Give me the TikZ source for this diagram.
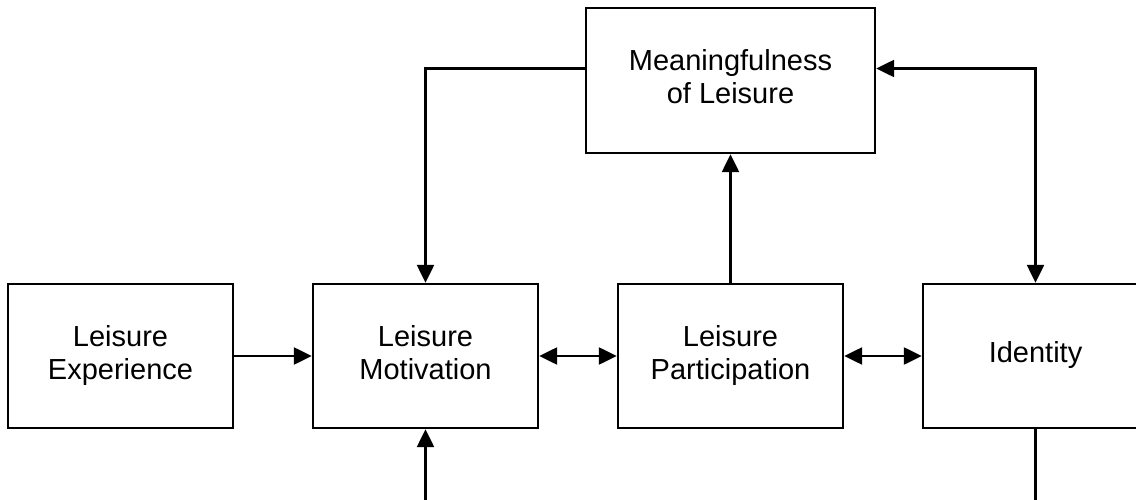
\documentclass[tikz,border=0pt]{standalone}
\usepackage{fontspec}
\setmainfont{Liberation Sans}
\usetikzlibrary{arrows.meta,positioning}

\begin{document}
\begin{tikzpicture}[
            x=1pt, y=1pt,
            box/.style={draw, line width=2.4pt, minimum width=225pt, minimum height=144pt, align=center, text depth=8pt, font=\fontsize{29}{33}\selectfont},
            link/.style={line width=2.4pt},
            >={Triangle[length=18pt,width=17pt]},
            node distance=77.6pt
        ]
        \useasboundingbox (0,0) rectangle (1136,-500);
        \clip (0,0) rectangle (1136,-500);

        \node[box] (exp) at (120.5,-356) {Leisure\\Experience};
        \node[box, right=of exp] (mot) {Leisure\\Motivation};
        \node[box, right=of mot] (part) {Leisure\\Participation};
        \node[box, right=of part] (id) {Identity};
        \node[box, above=128.6pt of part, minimum width=289pt, minimum height=145pt] (mean) {Meaningfulness\\of Leisure};

        % loose ends running off the bottom
        \coordinate (motin) at (mot.south |- 0,-510);
        \coordinate (idout) at (id.south |- 0,-510);

        \draw[link,->] (exp) -- (mot);
        \draw[link,<->] (mot) -- (part);
        \draw[link,<->] (part) -- (id);
        \draw[link,->] (part) -- (mean);
        \draw[link,->] ([yshift=12pt]mean.west) -| (mot.north);
        \draw[link,<->] ([yshift=12pt]mean.east) -| (id.north);
        \draw[link,->] (motin) -- (mot.south);
        \draw[link] (id.south) -- (idout);
    \end{tikzpicture}
\end{document}
